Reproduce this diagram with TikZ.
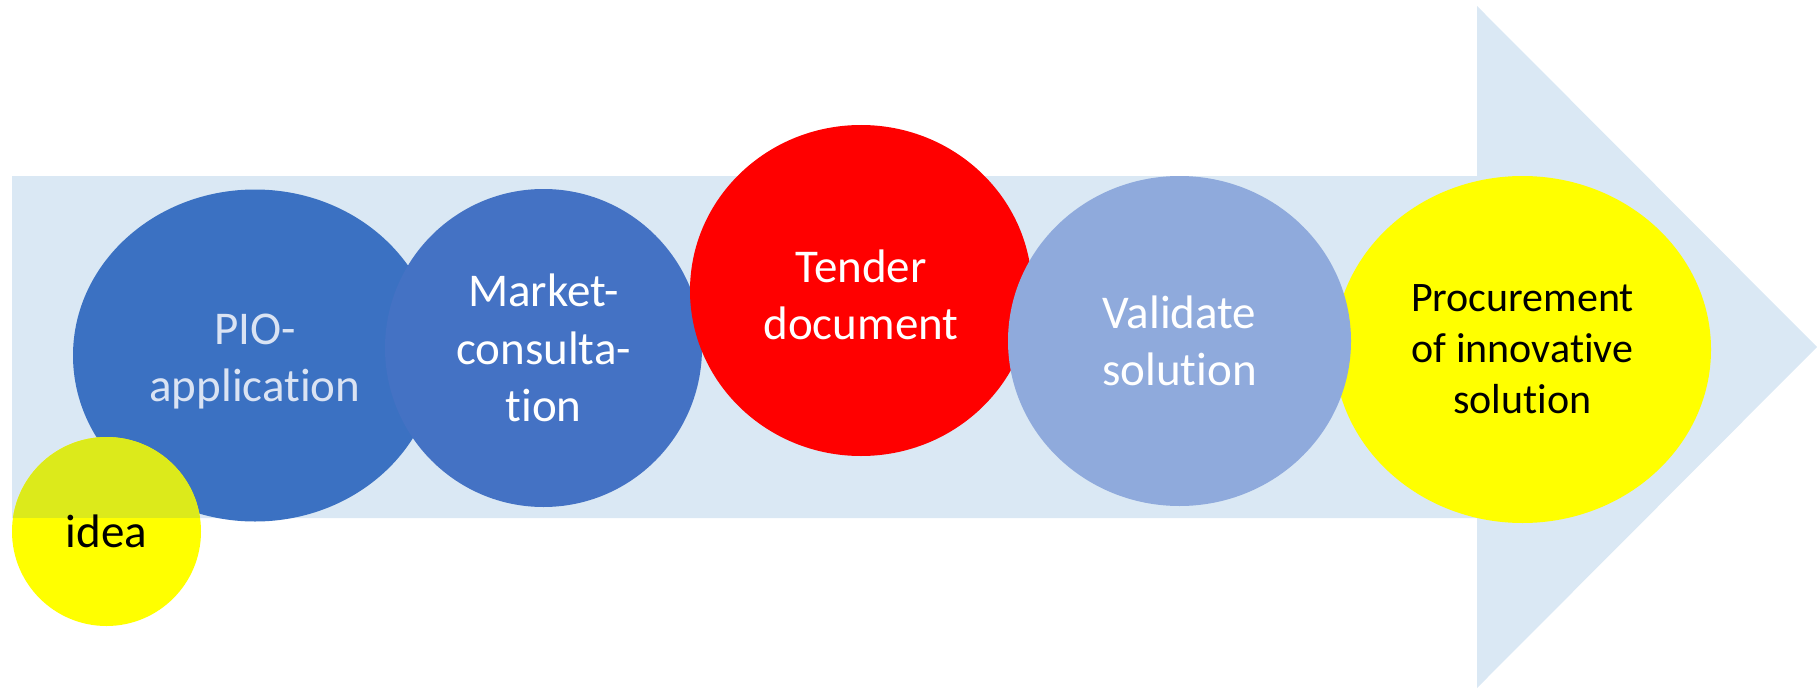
\documentclass[tikz,border=0pt]{standalone}
\usepackage{fontspec}
\setmainfont[Ligatures=NoCommon]{Carlito}
\usetikzlibrary{shapes.geometric}
\definecolor{arrowbg}{HTML}{DAE8F4}
\definecolor{pioblue}{HTML}{3B71C2}
\definecolor{mktblue}{HTML}{4472C4}
\definecolor{valblue}{HTML}{8FAADC}
\definecolor{tenderred}{HTML}{FF0000}
\definecolor{procyellow}{HTML}{FFFF00}
\definecolor{ideatop}{HTML}{DCEA1B}
\definecolor{piotext}{HTML}{DAE3F3}
\begin{document}
\begin{tikzpicture}[x=1pt,y=-1pt,
  stage/.style={ellipse, inner sep=0pt, align=center, font=\fontsize{47}{57.5}\selectfont},
]
\useasboundingbox (0,0) rectangle (1819,690);
\coordinate (bodyNW) at (12,176);
\coordinate (bodySE) at (1477,518);
\fill[arrowbg] (12,176) -- (1477,176) -- (1477,6) -- (1817,347) -- (1477,688) -- (1477,518) -- (12,518) -- cycle;
\node[stage, fill=pioblue, text=piotext, minimum width=364pt, minimum height=332pt] (pio) at (255,355.5) {\rule{0pt}{43pt}PIO-\\application};
\node[stage, fill=mktblue, text=white, minimum width=317pt, minimum height=318pt] (mkt) at (543.5,348) {Market-\\consulta-\\tion};
\node[stage, fill=tenderred, text=white, minimum width=342pt, minimum height=331pt] (tender) at (861,290.5) {\rule{0pt}{41pt}Tender\\document};
\node[stage, fill=procyellow, text=black, minimum width=377pt, minimum height=347pt, font=\fontsize{42}{51}\selectfont] (proc) at (1522.5,349.5) {Procurement\\of innovative\\solution};
\node[stage, fill=valblue, text=white, minimum width=343pt, minimum height=330pt] (val) at (1179.5,341) {Validate\\solution};
\node[stage, circle, fill=procyellow, text=black, minimum size=189pt,
  path picture={\fill[ideatop] (path picture bounding box.north west) rectangle (path picture bounding box.east |- bodySE);}] (idea) at (106.5,531.5) {idea};
\end{tikzpicture}
\end{document}
